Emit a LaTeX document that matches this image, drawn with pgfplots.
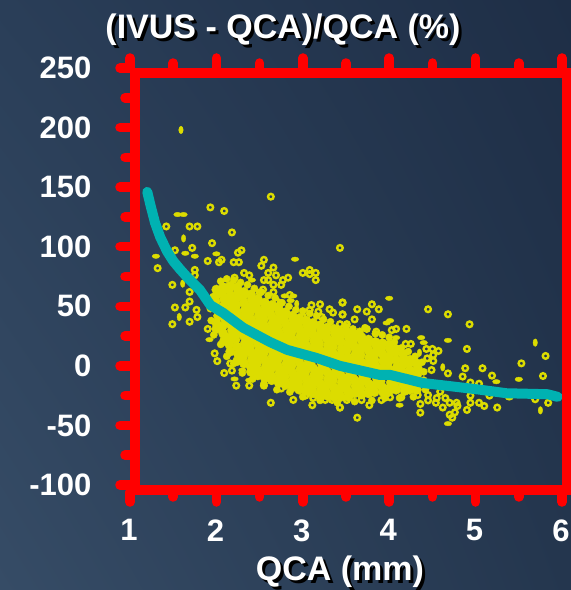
\documentclass[border=0pt]{standalone}
\usepackage{pgfplots}
\pgfplotsset{compat=1.18}
\usetikzlibrary{shadings}
\usepackage{fontspec}
\setmainfont{Liberation Sans}
\definecolor{dotc}{HTML}{DCDC00}
\definecolor{teal2}{HTML}{00B2B2}
\definecolor{bgll}{RGB}{54,76,102}
\definecolor{bgul}{RGB}{42,62,88}
\definecolor{bgur}{RGB}{30,46,70}
\definecolor{bglr}{RGB}{36,54,78}
\pgfplotsset{
  base/.style={
    at={(130pt,105pt)},anchor=south west,scale only axis,
    width=432pt,height=417pt,xmin=1,xmax=6,ymin=-100,ymax=250,clip=false,clip mode=individual,
    axis line style={draw=none},
    xtick={1,2,3,4,5,6},
    tick align=outside,
    major tick length=10pt,minor tick length=5pt,
    tick style={red,line width=9.5pt,line cap=round},
    /pgf/number format/assume math mode=true,
    tick label style={font=\fontsize{31}{31}\selectfont\bfseries,text=white},
  }
}
\begin{document}
\begin{tikzpicture}[x=1pt,y=1pt]
\useasboundingbox (0,0) rectangle (571,590);
\shade[lower left=bgll,upper left=bgul,upper right=bgur,lower right=bglr] (0,0) rectangle (571,590);
% bottom ticks and number labels
\begin{axis}[base,at={(130pt,98pt)},xtick pos=bottom,ytick=\empty,minor x tick num=1,minor y tick num=0,
  xticklabel style={yshift=-14pt,xshift=-1pt}]
\end{axis}
\begin{axis}[base,xtick pos=top,xticklabels={},ytick pos=left,minor tick num=1,
  ytick={-100,-50,0,50,100,150,200,250},
  yticklabel style={xshift=-25pt}]
% outlying points: rings
\addplot[only marks,dotc,mark=o,mark size=2.8pt,mark options={line width=2.4pt,draw=dotc,fill=none}] coordinates {
(2.63,142)(1.93,133)(2.09,130)(1.42,117)(1.69,117)(1.78,117)(2.18,112)(1.95,103)(1.72,99)(1.52,97)(2.29,97)(2.25,95)
(1.9,88)(2.06,89)(2.03,87)(2.2,87)(2.26,87)(2.55,89)(2.52,84)(3.43,99)(1.32,82)(2.66,82.5)(1.75,80.5)(1.75,76)
(2.32,78)(2.38,76)(2.6,78)(2.69,76)(3.0,78)(3.08,80.5)(3.08,77)(3.15,78)(3.15,72)(2.83,74)(2.77,72)(2.75,68)
(2.55,72)(2.6,72)(2.66,68)(2.21,74)(1.49,68)(2.54,64)(2.5,61.5)(2.66,62)(1.69,62)(2.85,59.5)(2.7,54)(2.74,52.5)
(3.46,53)(3.2,51.7)(3.1,51)(3.08,47)(3.31,47.5)(3.18,45.5)(3.35,44.7)(3.46,43)(3.0,41)(3.22,41)(3.51,35)(3.43,35)
(1.52,49)(1.64,49)(1.69,54)(1.77,47)(1.78,41)(1.69,37)(1.49,35)(1.9,31)(1.98,10.5)(2.01,4)(2.09,-6)(2.16,2)(2.18,-4)
(2.23,-16.6)(2.38,-16.6)(2.55,-16.6)(2.63,-31)(2.89,-28.6)(2.75,-19)(3.03,-25)(3.11,-33)(3.26,-28.6)(3.34,-28.6)
(3.43,-35)(3.12,-27)(3.08,-22.5)
(3.46,53.3)(3.8,51.7)(3.63,47.5)(3.74,45.5)(3.88,47.5)(3.46,43.3)(3.6,39)(3.8,39)(4.45,47.5)(4.68,43.3)(4.93,34.9)
(4.2,31)(4.03,30)(4.08,31)(3.74,31)(3.85,28.7)(3.6,27.3)(3.66,27.3)(4.19,18.4)(4.25,18.4)(4.9,14.2)(4.43,14.2)
(4.5,14.2)(4.57,12.5)(4.51,9.1)(4.44,6.3)(4.51,4.1)(4.49,-3.5)(4.68,-6.3)(4.88,-2)(5.08,-2)(4.85,-9)(5.19,-8.2)
(4.94,-14)(4.59,-21.7)(5.04,-15)(4.94,-25)(5.16,-25)(4.45,-24.5)(4.45,-29)(4.55,-27)(4.65,-27)(4.7,-31)(4.78,-31)
(4.54,-31)(4.36,-32)(4.36,-39.3)(4.62,-35)(4.79,-33.7)(4.94,-31)(4.9,-37)(5.04,-31)(5.1,-33.7)(5.25,-35)(4.76,-39)
(4.7,-41)(4.73,-43.5)(3.91,-28.7)(3.77,-33)(3.68,-28.7)(3.51,-28.7)(3.43,-35)(3.63,-43.5)(4.01,-26.4)(4.14,-26.4)
(4.33,-24.5)(5.81,8.3)(5.53,2.1)(5.78,-8.5)(5.69,-28)(5.84,-31)
};
% flat ovals
\addplot[only marks,dotc,mark=*,mark size=2.8pt,mark options={xscale=1.35,yscale=.8,draw=dotc,fill=dotc}] coordinates {
(1.55,127)(1.62,127)(1.3,92)(1.75,92)(2.0,94)(2.91,89.5)(1.64,94.5)(2.41,72)(2.79,58.7)(2.89,58.7)(2.86,54.8)
(1.92,22)(2.21,-11)(2.38,-12)(2.3,-3.5)(4.0,56.7)(4.37,23.7)(4.4,19.5)(4.08,23.7)(4.68,21.4)(5.24,-13.3)
(4.68,-48.5)(4.12,-33)(5.5,-11.3)(5.39,-27)(4.01,38)(3.97,36)
};
% upright ovals
\addplot[only marks,dotc,mark=*,mark size=2.8pt,mark options={xscale=.8,yscale=1.35,draw=dotc,fill=dotc}] coordinates {
(1.59,198)(1.62,107)(1.61,69)(1.57,41)(2.93,52)(4.35,11)(4.62,-1.2)(5.75,-37.3)(5.69,19.5)
};
% crowded centre of the cloud
\addplot[only marks,dotc,mark=*,mark size=4.7pt,mark options={draw=dotc,fill=dotc}] coordinates {
(2.00,64)(2.01,60)(1.99,54)(2.00,48)(2.02,42)(2.00,36)(2.00,31)
(2.08,66)(2.07,62)(2.09,56)(2.08,50)(2.08,45)(2.10,39)(2.07,33)(2.08,27)(2.09,21)
(2.16,67)(2.15,65)(2.16,59)(2.17,53)(2.16,47)(2.15,41)(2.16,35)(2.18,30)(2.16,24)(2.15,18)(2.16,12)
(2.24,66)(2.25,62)(2.24,57)(2.23,51)(2.24,45)(2.25,39)(2.24,33)(2.24,27)(2.22,22)(2.24,16)(2.25,10)(2.24,4)
(2.32,62)(2.31,59)(2.32,53)(2.33,47)(2.32,42)(2.32,36)(2.30,30)(2.32,25)(2.33,19)(2.32,13)(2.31,8)(2.32,2)
(2.40,60)(2.41,56)(2.40,50)(2.39,45)(2.40,39)(2.40,33)(2.42,28)(2.40,22)(2.39,16)(2.40,11)(2.41,5)(2.40,-1)(2.40,-5)
(2.48,56)(2.47,53)(2.48,47)(2.49,42)(2.48,36)(2.48,30)(2.46,25)(2.48,19)(2.49,13)(2.48,8)(2.47,2)(2.48,-4)(2.48,-8)
(2.56,53)(2.57,50)(2.56,45)(2.55,39)(2.56,33)(2.56,28)(2.58,22)(2.56,16)(2.55,11)(2.56,5)(2.57,-1)(2.56,-7)(2.56,-10)
(2.64,51)(2.63,48)(2.64,42)(2.65,36)(2.64,31)(2.64,25)(2.62,19)(2.64,14)(2.65,8)(2.64,2)(2.63,-3)(2.64,-9)(2.64,-12)
(2.72,48)(2.73,45)(2.72,39)(2.71,33)(2.72,28)(2.72,22)(2.74,16)(2.72,11)(2.71,5)(2.72,-1)(2.73,-6)(2.72,-12)(2.72,-14)
(2.80,45)(2.79,42)(2.80,36)(2.81,31)(2.80,25)(2.80,19)(2.78,14)(2.80,8)(2.81,2)(2.80,-3)(2.79,-9)(2.80,-14)(2.80,-16)
(2.88,42)(2.89,39)(2.88,33)(2.87,28)(2.88,22)(2.88,16)(2.90,11)(2.88,5)(2.87,0)(2.88,-6)(2.89,-11)(2.88,-16)(2.88,-18)
(2.96,40)(2.95,36)(2.96,31)(2.97,25)(2.96,19)(2.96,14)(2.94,8)(2.96,3)(2.97,-3)(2.96,-8)(2.95,-14)(2.96,-19)(2.96,-20)
(3.04,38)(3.05,34)(3.04,28)(3.03,23)(3.04,17)(3.04,11)(3.06,6)(3.04,0)(3.03,-5)(3.04,-11)(3.05,-16)(3.04,-21)
(3.12,36)(3.11,32)(3.12,26)(3.13,21)(3.12,15)(3.12,9)(3.10,4)(3.12,-2)(3.13,-8)(3.12,-13)(3.11,-18)(3.12,-23)
(3.20,34)(3.21,30)(3.20,25)(3.19,19)(3.20,13)(3.20,8)(3.22,2)(3.20,-4)(3.19,-9)(3.20,-15)(3.21,-20)(3.20,-25)
(3.28,32)(3.27,28)(3.28,23)(3.29,17)(3.28,12)(3.28,6)(3.26,0)(3.28,-5)(3.29,-11)(3.28,-16)(3.27,-22)(3.28,-25)
(3.36,31)(3.37,27)(3.36,21)(3.35,16)(3.36,10)(3.36,4)(3.38,-1)(3.36,-7)(3.35,-12)(3.36,-18)(3.37,-23)(3.36,-26)
(3.44,29)(3.43,25)(3.44,20)(3.45,14)(3.44,8)(3.44,3)(3.42,-3)(3.44,-8)(3.45,-14)(3.44,-19)(3.43,-25)(3.44,-26)
(3.52,28)(3.53,24)(3.52,18)(3.51,13)(3.52,7)(3.52,1)(3.54,-4)(3.52,-10)(3.51,-15)(3.52,-21)(3.53,-26)
(3.60,25)(3.59,22)(3.60,16)(3.61,10)(3.60,5)(3.60,-1)(3.58,-6)(3.60,-12)(3.61,-17)(3.60,-23)
(3.68,24)(3.69,20)(3.68,15)(3.67,9)(3.68,3)(3.68,-2)(3.70,-8)(3.68,-13)(3.67,-19)(3.68,-24)
(3.76,22)(3.75,18)(3.76,13)(3.77,7)(3.76,2)(3.76,-4)(3.74,-9)(3.76,-15)(3.77,-20)(3.76,-23)
(3.84,20)(3.85,17)(3.84,11)(3.83,5)(3.84,0)(3.84,-5)(3.86,-11)(3.84,-16)(3.83,-22)
(3.92,19)(3.91,15)(3.92,10)(3.93,4)(3.92,-2)(3.92,-7)(3.90,-13)(3.92,-18)(3.93,-22)
(4.00,18)(4.01,14)(4.00,8)(3.99,3)(4.00,-3)(4.00,-8)(4.02,-14)(4.00,-19)(3.99,-22)
(4.08,14)(4.07,11)(4.08,5)(4.09,-1)(4.08,-6)(4.08,-12)(4.06,-17)(4.08,-20)
(4.16,10)(4.17,6)(4.16,1)(4.15,-5)(4.16,-10)(4.16,-16)(4.18,-21)
(4.24,5)(4.23,2)(4.24,-4)(4.25,-9)(4.24,-15)(4.24,-20)
(4.32,2)(4.33,-2)(4.32,-8)(4.31,-14)(4.32,-20)
};
% lumps along the rim of the cloud
\addplot[only marks,dotc,mark=*,mark size=3.6pt,mark options={draw=dotc,fill=dotc}] coordinates {
(2.05,71)(2.12,73)(2.20,72)(2.28,70)(2.36,68)(2.44,65)(2.52,62)(2.60,59)(2.68,57)(2.76,53)(2.84,50)(2.92,47)
(3.00,46)(3.08,44)(3.16,42)(3.24,39)(3.32,37)(3.50,33)(3.58,31)(3.66,29)(3.72,32)(3.84,27)(3.92,26)(4.00,24)
(4.06,20)(4.14,15)(4.22,12)(4.30,8)(4.38,3)(4.40,-5)(4.40,-12)(4.42,-20)(4.28,-26)(4.12,-27)(3.95,-27)(3.80,-29)
(3.60,-30)(3.40,-31)(3.20,-29)(3.00,-26)(2.85,-22)(2.70,-20)(2.55,-15)(2.42,-11)(2.30,-6)(2.20,2)(2.12,8)(2.05,18)
(1.97,26)(1.94,38)(1.93,48)(1.96,58)
};
% fitted curve
\addplot[teal2,line width=10pt,line cap=round,line join=round] coordinates {
(1.2,146)(1.24,134)(1.29,120)(1.35,108)(1.43,96)(1.5,88)(1.58,81)(1.66,74.6)(1.81,63.7)(1.93,51)(2.08,44.4)(2.31,32)(2.62,20)(2.82,13.4)
(3.16,6.6)(3.43,0)(3.89,-7.6)(4.01,-7.6)(4.39,-14.4)(4.7,-17)(5.05,-20)(5.36,-23)(5.83,-23.8)(5.95,-26)
};
\end{axis}
% frame of the plot
\draw[red,line width=10pt] (135,517) rectangle (566.5,100);
% title and axis name, each with its drop shadow
\node[font=\fontsize{34}{34}\selectfont\bfseries,text=black] at (286,557.5) {(IVUS - QCA)/QCA (\%)};
\node[font=\fontsize{34}{34}\selectfont\bfseries,text=white] at (283,560.5) {(IVUS - QCA)/QCA (\%)};
\node[font=\fontsize{34}{34}\selectfont\bfseries,text=black] at (343,15) {QCA (mm)};
\node[font=\fontsize{34}{34}\selectfont\bfseries,text=white] at (340,18) {QCA (mm)};
\end{tikzpicture}
\end{document}
